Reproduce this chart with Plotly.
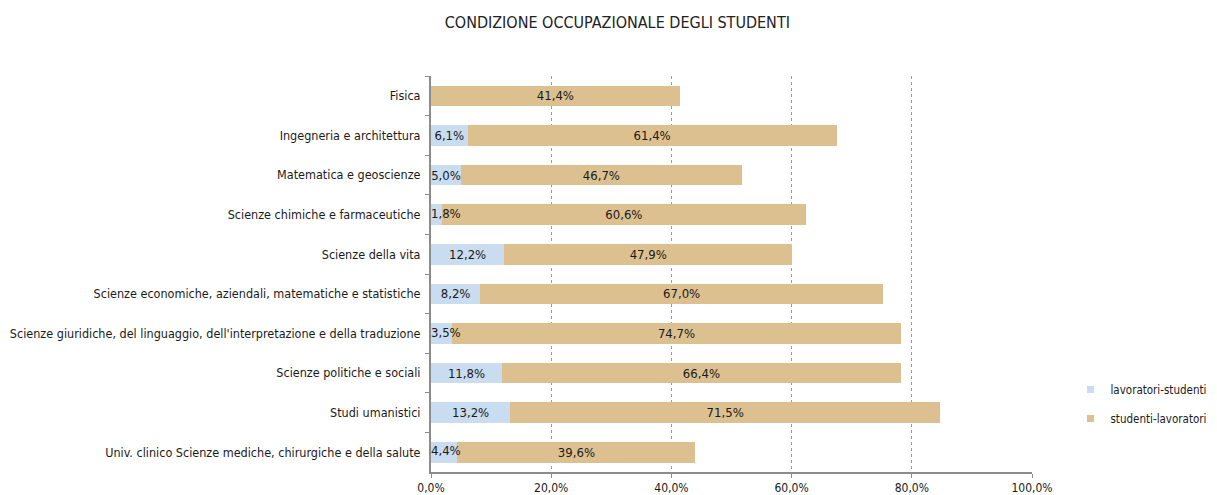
import plotly.graph_objects as go

categories = [
    "Fisica",
    "Ingegneria e architettura",
    "Matematica e geoscienze",
    "Scienze chimiche e farmaceutiche",
    "Scienze della vita",
    "Scienze economiche, aziendali, matematiche e statistiche",
    "Scienze giuridiche, del linguaggio, dell'interpretazione e della traduzione",
    "Scienze politiche e sociali",
    "Studi umanistici",
    "Univ. clinico Scienze mediche, chirurgiche e della salute",
]
lavoratori_studenti = [None, 6.1, 5.0, 1.8, 12.2, 8.2, 3.5, 11.8, 13.2, 4.4]
studenti_lavoratori = [41.4, 61.4, 46.7, 60.6, 47.9, 67.0, 74.7, 66.4, 71.5, 39.6]
x_ticks = [0, 20, 40, 60, 80, 100]
x_tick_labels = ["0,0%", "20,0%", "40,0%", "60,0%", "80,0%", "100,0%"]

BLUE = "#C9DCF0"
TAN = "#DCC08F"
FONT = "Liberation Sans Narrow, DejaVu Sans Condensed, Arial Narrow, sans-serif"
LABEL_FONT = dict(size=13, color="#1a1a1a")

# labels of very thin bars don't fit inside, they start at the axis instead
too_thin = [v is not None and v < 5 for v in lavoratori_studenti]

fig = go.Figure()

fig.add_trace(
    go.Bar(
        y=categories,
        x=lavoratori_studenti,
        orientation="h",
        marker_color=BLUE,
        marker_line_width=0,
        texttemplate="%{x:.1f}%",
        textposition=["none" if t else "inside" for t in too_thin],
        insidetextanchor="middle",
        textangle=0,
        constraintext="none",
        textfont=LABEL_FONT,
        showlegend=False,
        hoverinfo="skip",
    )
)
fig.add_trace(
    go.Bar(
        y=categories,
        x=studenti_lavoratori,
        orientation="h",
        marker_color=TAN,
        marker_line_width=0,
        texttemplate="%{x:.1f}%",
        textposition="inside",
        insidetextanchor="middle",
        textangle=0,
        constraintext="none",
        textfont=LABEL_FONT,
        showlegend=False,
        hoverinfo="skip",
    )
)

thin_cats = [c for c, t in zip(categories, too_thin) if t]
thin_vals = [v for v, t in zip(lavoratori_studenti, too_thin) if t]
fig.add_trace(
    go.Scatter(
        y=thin_cats,
        x=[0] * len(thin_cats),
        mode="text",
        text=[f"{v:.1f}%".replace(".", ",") for v in thin_vals],
        textposition="middle right",
        textfont=LABEL_FONT,
        cliponaxis=False,
        showlegend=False,
        hoverinfo="skip",
    )
)

# legend entries with small square markers
for name, color in [("lavoratori-studenti", BLUE), ("studenti-lavoratori", TAN)]:
    fig.add_trace(
        go.Scatter(
            x=[None],
            y=[None],
            mode="markers",
            name=name,
            marker=dict(symbol="square", size=7, color=color),
            legendgroup=name,
        )
    )

# page body has an 8px margin, so the figure is sized/offset for that
fig.update_layout(
    title=dict(
        text="CONDIZIONE OCCUPAZIONALE DEGLI STUDENTI",
        x=0.504,
        xanchor="center",
        y=0.971,
        yanchor="middle",
        font=dict(size=16, color="#222222"),
    ),
    barmode="stack",
    bargap=0.48,
    separators=",.",
    font=dict(family=FONT, size=12, color="#1a1a1a"),
    plot_bgcolor="white",
    paper_bgcolor="white",
    width=1209,
    height=487,
    margin=dict(l=423, r=185, t=68, b=23, autoexpand=False),
    legend=dict(
        x=1.064,
        y=0.245,
        xanchor="left",
        yanchor="top",
        traceorder="grouped",
        tracegroupgap=10,
        font=dict(size=11.5),
        itemwidth=30,
    ),
)

fig.update_xaxes(
    range=[0, 100],
    tickvals=x_ticks,
    ticktext=x_tick_labels,
    showgrid=True,
    gridcolor="#9a9a9a",
    griddash="dot",
    gridwidth=1.3,
    zeroline=False,
    showline=True,
    linecolor="#8c8c8c",
    linewidth=2,
    ticks="outside",
    ticklen=4,
    tickcolor="#8c8c8c",
    tickfont=dict(size=12),
    fixedrange=True,
)
fig.update_yaxes(
    autorange="reversed",
    showline=True,
    linecolor="#8c8c8c",
    linewidth=2,
    ticks="outside",
    ticklen=4,
    tickcolor="#8c8c8c",
    tickson="boundaries",
    showgrid=False,
    tickfont=dict(size=12.5),
    ticklabelstandoff=6,
    fixedrange=True,
)

fig.write_html("out.html")
